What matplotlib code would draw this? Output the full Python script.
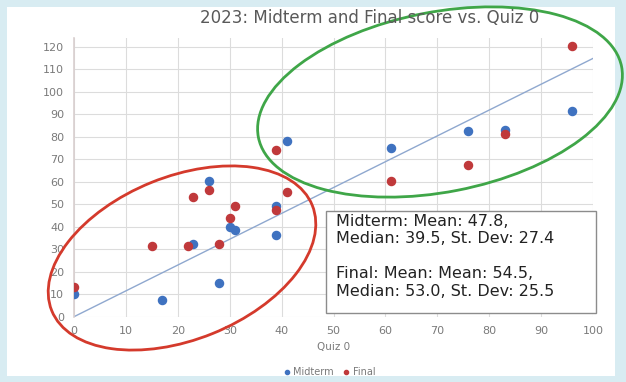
import matplotlib.pyplot as plt
from matplotlib.patches import Ellipse, Rectangle
from matplotlib.lines import Line2D

# Quiz 0 scores and the matching exam scores
quiz_mid = [0, 17, 23, 26, 28, 30, 31, 39, 39, 41, 61, 76, 83, 96]
midterm = [10, 7.5, 32.5, 60.5, 15, 40, 38.5, 49, 36.5, 78, 75, 82.5, 83, 91.5]

quiz_fin = [0, 15, 22, 23, 26, 28, 30, 31, 39, 41, 39, 61, 76, 83, 96]
final = [13, 31.5, 31.5, 53, 56.5, 32.5, 44, 49, 47.5, 55.5, 74, 60.5, 67.5, 81, 120.5]

# fitted trend through the origin
trend_x = [0, 100]
trend_y = [0, 114.8]

x_ticks = list(range(0, 101, 10))
y_ticks = list(range(0, 121, 10))

stats_text = ("Midterm: Mean: 47.8,\nMedian: 39.5, St. Dev: 27.4\n\n"
              "Final: Mean: Mean: 54.5,\nMedian: 53.0, St. Dev: 25.5")

BLUE = '#3f72c0'
RED = '#c0393b'
W, H = 626, 382
plt.rcParams['font.family'] = ['DejaVu Sans']

fig = plt.figure(figsize=(W / 100, H / 100), dpi=100)
fig.patch.set_facecolor('#d8ecf2')

# white card behind the chart
bg = fig.add_axes([0, 0, 1, 1], zorder=0)
bg.set_xlim(0, W)
bg.set_ylim(H, 0)
bg.axis('off')
bg.add_patch(Rectangle((7, 7), 608, 369, facecolor='white', edgecolor='none'))

ax = fig.add_axes([74 / W, 65.3 / H, 519 / W, 279 / H], zorder=1)
ax.set_facecolor('none')
ax.set_xlim(0, 100)
ax.set_ylim(0, 124)
ax.set_xticks(x_ticks)
ax.set_yticks(y_ticks)
ax.grid(True, color='#dcdcdc', linewidth=0.8)
ax.set_axisbelow(True)
for s in ['top', 'right', 'bottom']:
    ax.spines[s].set_visible(False)
ax.spines['left'].set_color('#d9cfcf')
ax.spines['left'].set_linewidth(1.2)
ax.tick_params(length=0, labelsize=8, labelcolor='#7a7a7a', pad=7)

ax.plot(trend_x, trend_y, color='#8fa8cf', linewidth=1.0, zorder=2)
ax.scatter(quiz_mid, midterm, s=34, color=BLUE, zorder=3)
ax.scatter(quiz_fin, final, s=34, color=RED, zorder=3)

ax.set_xlabel('Quiz 0', fontsize=7.5, color='#7a7a7a', labelpad=4)

fig.text(370 / W, 1 - 18 / H, '2023: Midterm and Final score vs. Quiz 0',
         ha='center', va='center', fontsize=12, color='#595959')

handles = [Line2D([], [], marker='o', linestyle='none', markersize=3, color=BLUE),
           Line2D([], [], marker='o', linestyle='none', markersize=3, color=RED)]
fig.legend(handles, ['Midterm', 'Final'], loc='center',
           bbox_to_anchor=(329 / W, 1 - 372 / H), ncol=2, frameon=False,
           fontsize=7, labelcolor='#7a7a7a', handlelength=0.8,
           handletextpad=0.3, columnspacing=0.8)

# annotation overlay in pixel coordinates
ov = fig.add_axes([0, 0, 1, 1], zorder=3)
ov.set_xlim(0, W)
ov.set_ylim(H, 0)
ov.axis('off')
ov.patch.set_alpha(0)

ov.add_patch(Rectangle((326, 211), 270, 102, facecolor='white',
                       edgecolor='#8c8c8c', linewidth=1.0))
ov.text(336, 214, stats_text, ha='left', va='top', fontsize=11.5,
        color='#222222', linespacing=1.2)

ov.add_patch(Ellipse((182, 258), 281, 163, angle=-22, fill=False,
                     edgecolor='#d43a2c', linewidth=2.0))
ov.add_patch(Ellipse((440, 102), 370, 180, angle=-11, fill=False,
                     edgecolor='#3fa648', linewidth=2.0))

fig.savefig('out.png', dpi=100, facecolor=fig.get_facecolor())
